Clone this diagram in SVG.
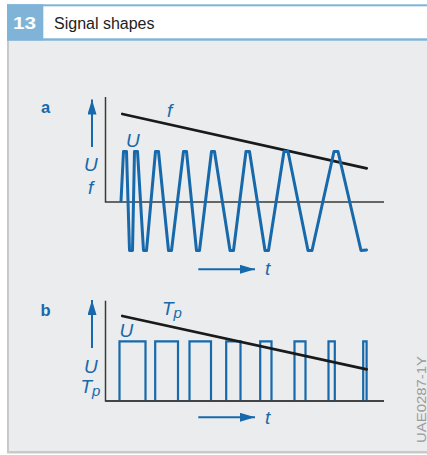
<svg xmlns="http://www.w3.org/2000/svg" width="427" height="455" viewBox="0 0 427 455">
  <style>
    .hdr { fill: #7fb4d8; }
    .frame { fill: #c8c9ca; }
    .axis { fill: none; stroke: #3a3a3a; stroke-width: 1.5; }
    .trend { fill: none; stroke: #1a1a1a; stroke-width: 2.8; stroke-linecap: round; }
    .sig { fill: none; stroke: #1769ab; stroke-width: 3; stroke-linejoin: round; stroke-linecap: round; }
    .pulse { fill: none; stroke: #1769ab; stroke-width: 2.2; stroke-linejoin: miter; }
    .arr { fill: none; stroke: #1769ab; stroke-width: 2; }
    .lbl { font-family: "Liberation Sans", Arial, sans-serif; font-style: italic; font-size: 19px; fill: #1769ab; }
    .sub { font-size: 15px; }
    .pl { font-family: "Liberation Sans", Arial, sans-serif; font-weight: bold; font-size: 16.5px; fill: #1769ab; }
  </style>
  <defs>
    <marker id="ah" markerUnits="userSpaceOnUse" markerWidth="15" markerHeight="9" refX="15" refY="4.5" orient="auto">
      <path d="M0,0 L15,4.5 L0,9 z" fill="#1769ab"/>
    </marker>
  </defs>

  <rect x="0" y="0" width="427" height="455" fill="#ffffff"/>
  <g id="frame">
    <rect x="7" y="40" width="420" height="413" fill="#ebeced"/>
    <rect class="frame" x="7" y="40" width="2" height="413"/>
    <rect class="frame" x="7" y="451" width="420" height="2.5"/>
    <rect class="hdr" x="7" y="4.3" width="420" height="2"/>
    <rect class="hdr" x="7" y="38.3" width="420" height="2.4"/>
    <rect class="hdr" x="7" y="4.3" width="36.3" height="36"/>
    <text x="13" y="29.3" font-family="Liberation Sans, Arial, sans-serif" font-weight="bold" font-size="17" fill="#ffffff" textLength="23" lengthAdjust="spacingAndGlyphs">13</text>
    <text x="54" y="29.3" font-family="Liberation Sans, Arial, sans-serif" font-size="16" fill="#222222">Signal shapes</text>
  </g>

  <g id="panel-a">
    <text class="pl" x="41" y="112.5">a</text>
    <path class="axis" d="M105.5,97 V202 H384"/>
    <path class="trend" d="M122.3,114 L366.7,168.3"/>
    <path class="sig" d="M121,201 L123.5,151.5 L126.5,151.5 L129.5,250.5 L132.5,250.5 L134.5,151.5 L137.5,151.5 L143.5,250.5 L146.5,250.5 L155.5,151.5 L158.5,151.5 L168.5,250.5 L171.5,250.5 L183.5,151.5 L186.5,151.5 L196.5,250.5 L199.5,250.5 L211.5,151.5 L214.5,151.5 L230,250.5 L233.5,250.5 L246,151.5 L249.5,151.5 L265,250.5 L268.5,250.5 L284,151.5 L288,151.5 L308,250.5 L312,250.5 L334,151.5 L338,151.5 L361,250.5 L366.5,250"/>
    <text class="lbl" x="126" y="147">U</text>
    <text class="lbl" x="167" y="116.5">f</text>
    <text class="lbl" x="84" y="170.5">U</text>
    <text class="lbl" x="88" y="193.7">f</text>
    <text class="lbl" x="265" y="275">t</text>
  </g>

  <g id="panel-b">
    <text class="pl" x="40.5" y="316">b</text>
    <path class="axis" d="M105.5,300.7 V401 H384"/>
    <path class="pulse" d="M119.5,401 V341.3 H145.5 V401 M155.2,401 V341.3 H178 V401 M189.5,401 V341.3 H211 V401 M226.2,401 V341.3 H240.5 V401 M260.2,401 V341.3 H271.5 V401 M294.5,401 V341.3 H305.5 V401 M328.5,401 V341.3 H334.8 V401 M363.2,401 V341.3 H366.6 V401"/>
    <path class="axis" d="M105.5,401 H384"/>
    <path class="trend" d="M122.3,316 L366.7,369.3"/>
    <text class="lbl" x="119.5" y="336.7">U</text>
    <text class="lbl" x="162" y="315">T<tspan class="sub" dy="3">p</tspan></text>
    <text class="lbl" x="84" y="372.7">U</text>
    <text class="lbl" x="80.5" y="393">T<tspan class="sub" dy="3">p</tspan></text>
    <text class="lbl" x="265" y="424">t</text>
  </g>

  <g id="connectors">
    <line class="arr" x1="92" y1="147" x2="92" y2="99.5" marker-end="url(#ah)"/>
    <line class="arr" x1="198.3" y1="269.3" x2="255" y2="269.3" marker-end="url(#ah)"/>
    <line class="arr" x1="92" y1="348" x2="92" y2="300" marker-end="url(#ah)"/>
    <line class="arr" x1="198.3" y1="417.3" x2="255" y2="417.3" marker-end="url(#ah)"/>
  </g>

  <text x="425.5" y="443" transform="rotate(-90 425.5 443)" font-family="Liberation Sans, Arial, sans-serif" font-size="13.5" fill="#9a9b9c" textLength="87" lengthAdjust="spacingAndGlyphs">UAE0287-1Y</text>
</svg>
